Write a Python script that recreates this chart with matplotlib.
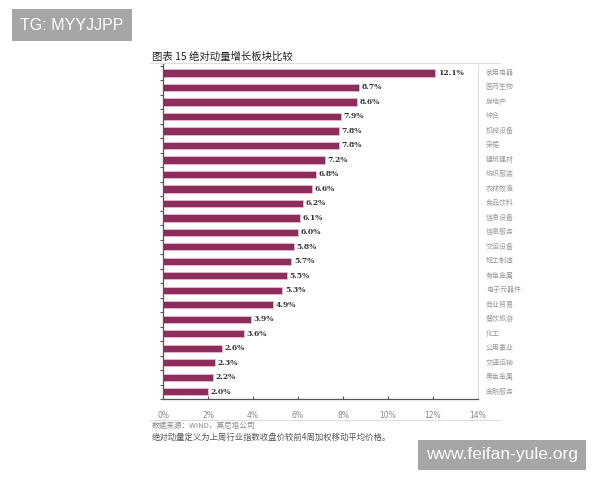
import numpy as np
import matplotlib
matplotlib.use("Agg")
import matplotlib.pyplot as plt
from matplotlib.lines import Line2D

plt.rcParams['font.family'] = ['Noto Sans CJK SC', 'DejaVu Sans']

# sectors, top to bottom
sectors = ["家用电器", "医药生物", "房地产", "综合", "机械设备", "采掘", "建筑建材",
           "纺织服装", "农林牧渔", "食品饮料", "信息设备", "信息服务", "交运设备",
           "轻工制造", "有色金属", "电子元器件", "商业贸易", "餐饮旅游", "化工",
           "公用事业", "交通运输", "黑色金属", "金融服务"]
growth = [12.1, 8.7, 8.6, 7.9, 7.8, 7.8, 7.2, 6.8, 6.6, 6.2, 6.1, 6.0, 5.8,
          5.7, 5.5, 5.3, 4.9, 3.9, 3.6, 2.6, 2.3, 2.2, 2.0]
xticks = [0, 2, 4, 6, 8, 10, 12, 14]

fig = plt.figure(figsize=(6, 4.8), dpi=100)
ax = fig.add_axes([163/600, 1-399/480, (478-163)/600, (399-63)/480])

y = np.arange(len(sectors))
ax.barh(y, growth, height=0.5, color="#8c2d5c", edgecolor="#e9b8d0", linewidth=0.6)
for yi, v in zip(y, growth):
    ax.text(v + 0.12, yi, f"{v:.1f}%", va="center", ha="left", fontsize=5.5,
            color="#333333", fontweight="bold", family="DejaVu Serif")
    ax.text(1.025, yi, sectors[yi], transform=ax.get_yaxis_transform(),
            va="center", ha="left", fontsize=5, color="#999999")

ax.set_xlim(0, 14)
ax.set_ylim(22.48, -0.69)
ax.set_xticks(xticks)
ax.set_xticklabels([f"{t}%" for t in xticks], fontsize=5.5, color="#888888",
                   family="DejaVu Sans")
ax.tick_params(axis="x", direction="in", length=2, width=0.8, pad=9, color="#555555")
ax.set_yticks(np.arange(-0.5, len(sectors), 1))
ax.set_yticklabels([])
ax.tick_params(axis="y", direction="out", length=2, width=0.8, color="#555555")

for s in ["left", "bottom"]:
    ax.spines[s].set_color("#555555")
    ax.spines[s].set_linewidth(0.9)
ax.spines["top"].set_visible(False)
ax.spines["right"].set_color("#dddddd")
ax.spines["right"].set_linewidth(0.8)

# frame lines of the report table
fig.add_artist(Line2D([150/600, 500/600], [1-63/480, 1-63/480], color="#dddddd", lw=0.8))
fig.add_artist(Line2D([150/600, 500/600], [1-420/480, 1-420/480], color="#dddddd", lw=0.8))

fig.text(152/600, 1-57/480, "图表 15 绝对动量增长板块比较", fontsize=7.5, color="#222222",
         va="center", ha="left")
fig.text(152/600, 1-426/480, "数据来源：WIND，莫尼塔公司", fontsize=5.5, color="#888888",
         va="center", ha="left")
fig.text(152/600, 1-437/480, "绝对动量定义为上周行业指数收盘价较前4周加权移动平均价格。",
         fontsize=6, color="#555555", va="center", ha="left")

# watermark boxes
fig.text(72/600, 1-25/480, "TG: MYYJJPP", fontsize=11.5, color="white", ha="center",
         va="center", family="Liberation Sans",
         bbox=dict(boxstyle="square,pad=0.55", fc="#a6a6a6", ec="none"))
fig.text(502/600, 1-455/480, "www.feifan-yule.org", fontsize=12.5, color="white",
         ha="center", va="center", family="Liberation Sans",
         bbox=dict(boxstyle="square,pad=0.45", fc="#a6a6a6", ec="none"))

fig.savefig("out.png", dpi=100)
